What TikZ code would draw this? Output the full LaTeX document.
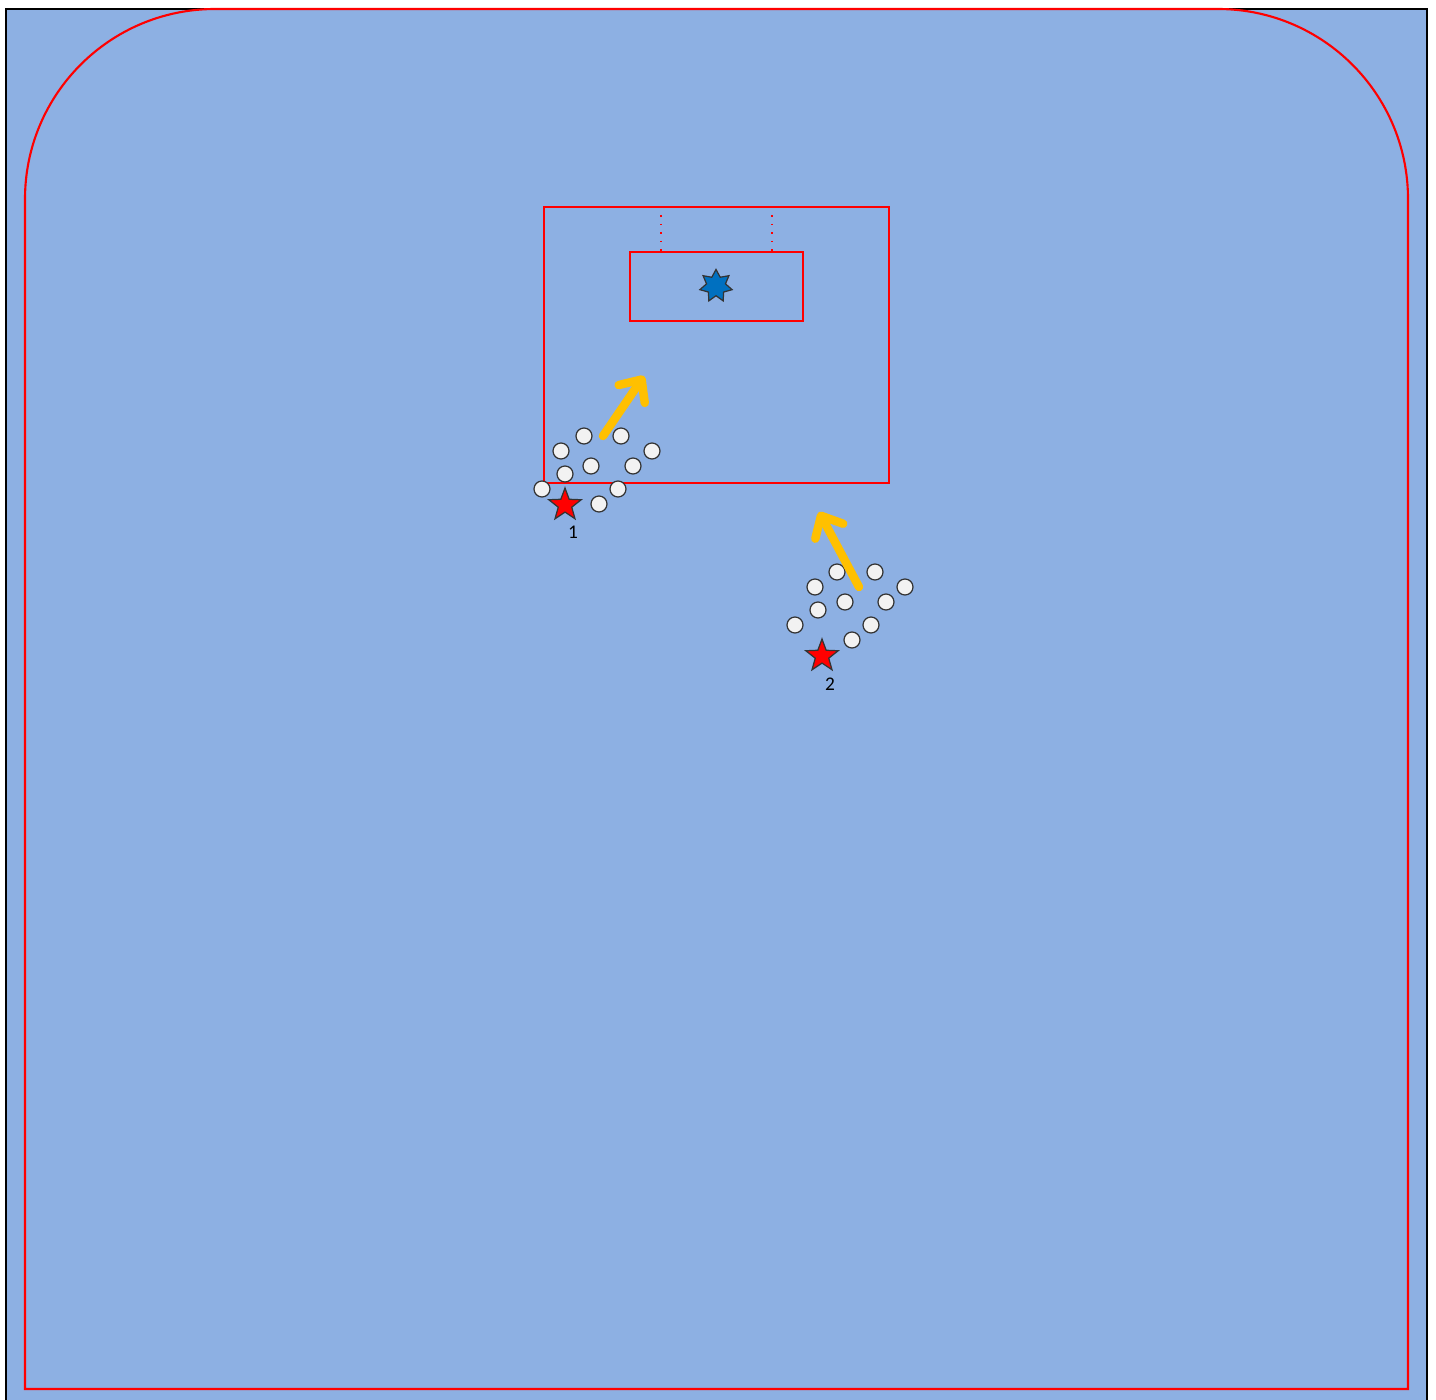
\documentclass[tikz,border=0pt]{standalone}
\usepackage{fontspec}
\setmainfont{Carlito}
\usepackage{xcolor}
\usepackage{tikz}
\usetikzlibrary{shapes.geometric, arrows.meta}

\definecolor{ice}{HTML}{8DB0E3}
\definecolor{rinkred}{HTML}{FF0000}
\definecolor{puckblue}{HTML}{0070C0}
\definecolor{arrowgold}{HTML}{FFC000}

\begin{document}
\begin{tikzpicture}[
    x=0.01cm, y=-0.01cm,
    line/.style={draw=rinkred, line width=0.6pt},
    player/.style={circle, draw=black!80, fill=white!95!black, line width=0.35pt, minimum size=0.16cm, inner sep=0pt},
    coach/.style={star, star points=5, star point ratio=2.4, draw=black!80, fill=rinkred, line width=0.35pt, minimum size=0.34cm, inner sep=0pt},
    target/.style={star, star points=7, star point ratio=1.7, draw=black!80, fill=puckblue, line width=0.35pt, minimum size=0.33cm, inner sep=0pt},
    num/.style={font=\fontsize{5.5}{6}\selectfont, inner sep=0pt},
    move/.style={draw=arrowgold, line width=2.4pt, line cap=round, -{Straight Barb[length=5pt, width=9pt, line cap=round, line join=round]}},
]
\useasboundingbox (0,0) rectangle (1436,1400);

% Ice
\fill[ice] (6,9) rectangle (1427,1400);
\draw[line width=0.6pt] (6,1400) -- (6,9) -- (1427,9) -- (1427,1400);

% Boards
\draw[line] (25,1389) -- (25,199) arc (180:270:190) -- (1218,9)
    arc (270:360:190) -- (1408,1389) -- cycle;

% Zones
\draw[line] (544,207) rectangle (889,483);
\draw[line] (630,252) rectangle (803,321);
\draw[draw=rinkred, line width=0.4pt, dotted] (661,207) -- (661,252);
\draw[draw=rinkred, line width=0.4pt, dotted] (772,207) -- (772,252);

\node[target] (goal) at (716,286) {};

% Group 1
\foreach \n/\px/\py in {a/584/436, b/621/436, c/561/451, d/652/451, e/565/474,
                        f/591/466, g/633/466, h/542/489, i/618/489, j/599/504}
    \node[player] (p1\n) at (\px,\py) {};
\node[coach] (coach1) at (565,505) {};
\node[num] (lab1) at (573,532) {1};

\coordinate (s1) at (603,436);
\coordinate (e1) at (644,376);
\draw[move] (s1) -- (e1);

% Group 2
\foreach \n/\px/\py in {a/837/572, b/875/572, c/815/587, d/905/587, e/818/610,
                        f/845/602, g/886/602, h/795/625, i/871/625, j/852/640}
    \node[player] (p2\n) at (\px,\py) {};
\node[coach] (coach2) at (822,656) {};
\node[num] (lab2) at (830,684) {2};

\coordinate (s2) at (859,587);
\coordinate (e2) at (819,512);
\draw[move] (s2) -- (e2);

\end{tikzpicture}
\end{document}
